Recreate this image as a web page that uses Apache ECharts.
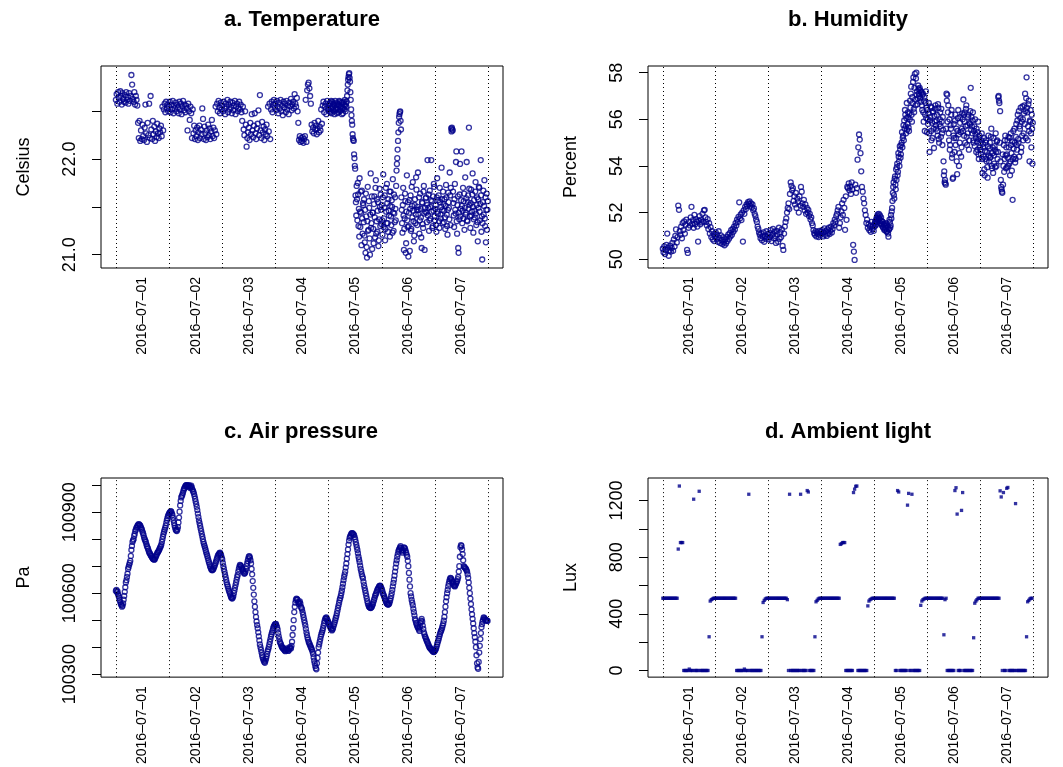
<!DOCTYPE html>
<html>
<head>
<meta charset="utf-8">
<script src="https://cdn.jsdelivr.net/npm/echarts@6/dist/echarts.min.js"></script>
<style>
html, body { margin: 0; padding: 0; background: #fff; }
#main { width: 1063px; height: 767px; }
</style>
</head>
<body>
<div id="main"></div>
<script>
// one array per day, values evenly spaced through the day
var temperature = [
    [22.62,22.68,22.58,22.70,22.64,22.60,22.71,22.66,22.57,22.69,22.63,22.60,
     22.67,22.59,22.70,22.62,22.65,22.58,22.69,22.61,22.66,22.88,22.78,22.63,
     22.60,22.70,22.57,22.66,22.62,22.56,22.38,22.22,22.40,22.19,22.30,22.21,
     22.36,22.24,22.20,22.33,22.57,22.27,22.18,22.38,22.25,22.58,22.22,22.66,
     22.31,22.21,22.40,22.26,22.34,22.19,22.29,22.23,22.37,22.27,22.22,22.32,
     22.28,22.35,22.24,22.55,22.30,22.52,22.58,22.49,22.60,22.53,22.57,22.50],
    [22.55,22.60,22.49,22.57,22.52,22.61,22.48,22.56,22.53,22.59,22.50,22.57,
     22.54,22.48,22.60,22.52,22.58,22.47,22.55,22.61,22.51,22.57,22.49,22.56,
     22.53,22.30,22.58,22.50,22.41,22.55,22.48,22.22,22.52,22.27,22.35,22.21,
     22.30,22.24,22.33,22.20,22.28,22.35,22.22,22.31,22.26,22.53,22.42,22.21,
     22.34,22.27,22.20,22.30,22.23,22.36,22.25,22.32,22.21,22.29,22.41,22.24,
     22.33,22.22,22.30,22.55,22.26,22.58,22.50,22.61,22.54,22.48,22.59,22.52],
    [22.56,22.50,22.60,22.53,22.47,22.58,22.55,22.62,22.49,22.57,22.52,22.60,
     22.54,22.48,22.59,22.51,22.56,22.61,22.47,22.55,22.58,22.50,22.53,22.60,
     22.52,22.57,22.49,22.40,22.55,22.31,22.25,22.50,22.36,22.13,22.22,22.28,
     22.33,22.20,22.38,22.26,22.47,22.30,22.23,22.35,22.48,22.27,22.21,22.32,
     22.37,22.51,22.25,22.67,22.30,22.22,22.39,22.28,22.34,22.20,22.31,22.26,
     22.36,22.24,22.55,22.29,22.58,22.21,22.52,22.60,22.49,22.57,22.62,22.54],
    [22.58,22.51,22.61,22.55,22.48,22.59,22.53,22.62,22.50,22.56,22.46,22.60,
     22.54,22.58,22.49,22.61,22.52,22.56,22.47,22.59,22.55,22.63,22.51,22.57,
     22.60,22.53,22.68,22.58,22.55,22.64,22.50,22.38,22.20,22.24,22.18,22.22,
     22.19,22.23,22.17,22.21,22.24,22.62,22.18,22.72,22.78,22.80,22.74,22.66,
     22.58,22.36,22.29,22.33,22.27,22.38,22.31,22.35,22.26,22.32,22.40,22.28,
     22.34,22.30,22.52,22.37,22.56,22.60,22.49,22.55,22.58,22.47,22.61,22.53],
    [22.56,22.52,22.50,22.58,22.59,22.49,22.53,22.61,22.48,22.55,22.60,22.51,
     22.54,22.58,22.57,22.50,22.47,22.56,22.61,22.53,22.52,22.59,22.55,22.48,
     22.58,22.52,22.49,22.57,22.56,22.61,22.60,22.50,22.51,22.55,22.54,22.59,
     22.47,22.53,22.59,22.48,22.53,22.60,22.57,22.52,22.62,22.56,22.50,22.58,
     22.55,22.60,22.66,22.72,22.78,22.83,22.86,22.89,22.90,22.85,22.81,22.70,
     22.62,22.52,22.46,22.40,22.36,22.26,22.22,22.20,22.19,22.05,22.01,21.93,
     21.90,21.62,21.55,21.41,21.72,21.58,21.36,21.75,21.63,21.30,21.48,21.19,
     21.80,21.45,21.29,21.66,21.44,21.10,21.67,21.38,21.22,21.54,21.52,21.34,
     21.58,21.20,21.13,21.47,21.02,21.64,21.40,21.08,20.97,21.35,21.71,21.25,
     21.26,21.56,21.49,21.17,21.00,21.42,21.85,21.28,21.33,21.61,21.06,21.44,
     21.44,21.27,21.12,21.53,21.61,21.39,21.18,21.70,21.78,21.22,21.35,21.58,
     21.24,21.46,21.55,21.09,21.15,21.37,21.69,21.50,21.30,21.63,21.47,21.32],
    [21.52,21.36,21.21,21.60,21.84,21.29,21.38,21.49,21.62,21.15,21.27,21.70,
     21.45,21.33,21.74,21.54,21.33,21.24,21.58,21.46,21.41,21.66,21.19,21.51,
     21.66,21.40,21.31,21.57,21.50,21.23,21.79,21.44,21.25,21.63,21.43,21.34,
     21.60,21.48,21.36,21.72,21.88,21.95,22.01,22.10,22.19,22.28,22.38,22.44,
     22.47,22.49,22.50,22.40,22.31,21.60,21.47,21.33,21.23,21.52,21.70,21.41,
     21.05,21.27,21.38,21.64,21.56,21.02,21.12,21.45,21.83,21.36,21.29,21.55,
     20.98,21.30,21.44,21.57,21.04,21.48,21.62,21.25,21.27,21.71,21.51,21.39,
     21.76,21.46,21.35,21.14,21.20,21.52,21.58,21.33,21.42,21.81,21.68,21.47,
     21.31,21.50,21.86,21.42,21.47,21.60,21.22,21.36,21.64,21.48,21.39,21.18,
     21.07,21.55,21.54,21.32,21.28,21.66,21.72,21.43,21.05,21.49,21.45,21.59,
     21.60,21.44,21.34,21.52,21.99,21.41,21.49,21.63,21.25,21.36,21.67,21.50,
     21.38,21.57,21.99,21.45,21.56,21.28,21.30,21.61,21.46,21.74,21.71,21.40],
    [21.36,21.48,21.52,21.31,21.24,21.60,21.80,21.45,21.43,21.57,21.62,21.35,
     21.28,21.70,21.55,21.42,21.38,21.50,21.91,21.58,21.47,21.33,21.66,21.53,
     21.34,21.46,21.58,21.39,21.27,21.51,21.73,21.60,21.42,21.30,21.21,21.47,
     21.65,21.55,21.49,21.37,21.86,21.62,21.31,21.70,22.32,22.29,22.33,22.31,
     22.30,21.66,21.54,21.41,21.29,21.58,21.74,21.47,21.43,21.97,22.08,21.35,
     21.22,21.52,21.61,21.07,21.02,21.44,21.37,21.63,21.95,21.40,21.48,21.57,
     22.08,21.51,21.33,21.46,21.70,21.38,21.56,21.64,21.26,21.49,21.81,21.42,
     21.44,21.59,21.97,21.36,21.35,21.55,21.62,21.48,22.33,21.69,21.52,21.40,
     21.28,21.54,21.68,21.41,21.45,21.63,21.85,21.50,21.23,21.37,21.57,21.46,
     21.39,21.66,21.76,21.43,21.31,21.52,21.60,21.34,21.14,21.58,21.49,21.71,
     21.70,21.45,21.36,21.53,21.99,21.62,21.24,21.40,20.95,21.33,21.55,21.67,
     21.42,21.51,21.78,21.38,21.30,21.60,21.13,21.47,21.64,21.26,21.47,21.56]
];

var humidity = [
    [50.45,50.30,50.55,50.22,50.40,50.62,51.10,50.50,50.15,50.38,50.58,50.33,
     50.48,50.70,50.36,50.85,50.55,51.00,51.28,50.72,50.95,52.30,52.12,51.20,
     51.05,51.40,50.90,51.55,51.25,51.62,51.10,51.48,51.70,50.40,50.27,51.35,
     51.60,51.45,51.80,52.25,51.52,51.68,51.35,51.90,51.50,51.72,51.62,51.40,
     50.76,51.65,51.85,51.50,51.70,51.58,51.95,51.62,52.10,52.12,51.80,51.60,
     51.45,51.72,51.30,51.55,51.10,51.38,50.95,51.20,50.85,51.08,50.78,50.98],
    [51.15,50.88,51.05,50.75,51.20,50.92,50.70,51.02,50.82,50.65,50.95,50.72,
     50.60,50.85,50.68,50.95,50.78,51.05,50.88,51.12,50.98,51.25,51.05,51.30,
     51.18,51.40,51.28,51.55,51.45,51.70,51.60,51.82,52.44,51.75,51.92,51.68,
     52.00,50.76,52.10,51.95,52.25,52.15,52.35,52.28,52.45,52.38,52.48,52.30,
     52.40,52.22,52.35,52.10,52.18,51.95,51.85,51.70,51.60,51.40,51.30,51.15,
     51.05,50.90,51.10,50.82,50.98,51.15,50.75,51.00,50.88,51.20,50.95,51.08],
    [50.85,51.12,50.95,51.25,50.78,51.05,51.30,50.90,51.18,51.00,50.70,51.22,
     51.08,50.75,51.35,50.88,51.15,50.95,51.28,50.57,50.40,51.10,51.40,51.60,
     51.75,52.00,52.20,52.40,52.15,52.80,53.30,53.15,52.95,53.05,52.50,52.70,
     52.35,52.85,52.20,52.60,52.45,52.00,52.70,52.30,53.10,52.90,52.40,52.25,
     52.55,52.10,52.35,51.95,52.20,52.00,52.12,51.85,51.95,51.70,51.80,51.55,
     51.45,51.25,51.12,51.05,51.20,50.98,51.15,51.08,50.95,51.22,51.02,51.18],
    [51.10,51.25,50.98,51.15,51.32,51.05,51.20,51.00,51.28,51.12,51.35,51.08,
     51.22,51.40,51.15,51.30,51.55,51.45,51.70,51.60,51.85,51.95,52.10,52.25,
     51.35,51.55,51.80,52.05,52.40,51.90,52.55,52.20,51.26,52.70,51.69,53.10,
     53.05,53.25,52.95,53.12,52.80,53.30,53.00,50.62,50.33,49.97,53.20,52.85,
     53.05,54.27,54.80,55.35,55.13,54.55,53.77,53.10,52.90,52.60,52.40,52.10,
     51.90,51.55,51.70,51.35,51.50,51.25,51.42,51.18,51.60,51.30,51.45,51.22],
    [51.40,51.55,51.62,51.45,51.50,51.70,51.78,51.60,51.85,51.92,51.68,51.80,
     51.95,51.72,51.75,51.88,51.55,51.66,51.80,51.50,51.45,51.62,51.60,51.38,
     51.35,51.48,51.50,51.25,51.28,51.52,51.42,51.33,51.55,51.18,51.20,51.45,
     51.38,51.10,50.97,51.25,51.30,51.70,51.60,51.35,51.45,51.90,51.75,52.05,
     52.20,52.50,52.85,53.10,53.30,52.75,52.60,53.45,53.55,53.20,53.00,53.85,
     53.40,53.95,54.10,53.60,53.75,54.55,54.40,54.20,54.00,54.85,54.70,54.35,
     54.50,54.90,55.00,55.45,54.80,55.20,55.30,55.75,55.10,55.95,55.60,56.40,
     56.20,55.70,55.40,56.05,56.70,55.55,55.80,56.30,56.10,55.65,55.50,56.25,
     56.00,56.80,56.50,57.10,57.40,56.20,55.90,56.95,56.70,57.60,57.80,56.45,
     56.30,57.35,57.95,56.85,56.60,57.75,58.00,57.05,57.20,56.65,56.90,57.45,
     57.30,57.10,57.00,57.35,57.25,56.90,56.75,57.20,57.15,56.60,56.40,57.05,
     57.10,56.30,55.90,56.80,56.95,55.50,56.20,56.70,57.20,56.05,56.50,55.45],
    [56.40,56.00,55.80,56.25,56.70,55.40,54.60,55.95,56.10,56.55,55.50,55.10,
     56.50,55.85,55.20,56.35,56.30,55.60,54.77,56.15,55.90,56.45,56.60,55.75,
     55.60,55.95,56.20,55.50,55.30,56.65,56.50,55.15,55.00,55.80,56.00,56.30,
     55.70,55.25,56.45,55.90,55.40,54.90,56.10,55.55,54.20,53.60,53.77,53.30,
     53.40,53.25,53.20,55.60,57.10,56.80,57.05,55.90,56.30,56.60,55.40,55.10,
     56.00,54.70,54.90,55.75,55.60,56.20,56.40,54.35,54.50,53.45,53.50,55.30,
     55.80,55.20,54.60,55.95,56.20,54.90,55.20,55.60,54.20,53.65,55.50,56.05,
     56.40,55.35,54.00,54.55,55.00,55.85,56.10,55.45,54.40,54.80,55.60,56.25,
     56.00,55.50,56.85,56.20,55.30,55.90,56.30,55.00,55.70,56.45,56.60,55.25,
     54.90,55.75,55.40,56.10,56.20,54.70,55.10,55.85,55.80,56.35,57.35,55.55,
     56.10,55.70,55.40,55.95,56.30,55.10,55.00,55.50,55.70,54.85,56.00,55.35,
     55.20,54.60,55.60,55.05,54.70,55.45,55.90,54.50,54.30,55.15,55.30,54.80],
    [55.00,54.70,54.50,55.10,55.40,54.30,53.70,54.95,54.80,54.40,55.20,53.85,
     53.60,54.65,54.30,55.00,55.10,54.20,54.60,53.95,53.50,54.85,55.30,54.45,
     54.20,54.75,55.00,54.35,54.40,55.25,55.60,54.00,53.90,54.55,54.80,53.70,
     55.20,54.45,54.10,54.85,54.70,53.95,55.40,54.60,54.00,55.05,55.10,54.30,
     54.60,56.95,57.00,56.80,56.70,55.00,56.35,54.20,53.40,53.10,53.00,52.90,
     52.85,54.50,53.20,54.00,54.90,53.75,54.30,55.10,55.30,54.45,53.90,54.80,
     54.50,53.95,55.10,54.35,54.00,55.25,54.80,54.10,55.20,53.60,54.20,55.40,
     54.90,54.55,53.80,55.05,52.55,54.30,55.50,54.75,54.40,55.60,55.00,54.15,
     54.30,55.25,55.80,54.90,54.70,55.95,56.20,55.15,55.00,56.35,54.40,55.70,
     55.60,56.05,56.50,54.60,54.80,55.90,55.30,56.55,56.00,55.10,55.40,56.25,
     56.60,55.80,57.10,56.35,55.20,56.90,57.80,56.50,56.30,55.10,55.70,56.65,
     56.80,55.50,54.20,55.95,55.90,56.40,55.40,54.80,56.20,55.60,54.10,55.85]
];

var pressure = [
    [100608,100612,100603,100607,100596,100590,100583,100574,100567,100560,100556,100550,100553,100562,100576,100590,
     100605,100622,100640,100648,100660,100672,100690,100697,100705,100712,100720,100738,100760,100775,100790,100796,
     100800,100812,100820,100830,100835,100842,100845,100850,100852,100856,100855,100852,100850,100845,100840,100835,
     100828,100822,100815,100806,100800,100795,100790,100782,100775,100770,100765,100758,100752,100748,100745,100740,
     100738,100733,100730,100727,100726,100724,100725,100730,100735,100740,100745,100750,100752,100756,100760,100765,
     100770,100774,100780,100790,100800,100810,100820,100828,100835,100842,100850,100860,100870,100878,100885,100890],
    [100895,100898,100900,100904,100902,100896,100890,100880,100870,100860,100850,100842,100835,100832,100830,100836,
     100845,100862,100880,100902,100925,100942,100955,100960,100965,100972,100980,100986,100990,100995,100998,101000,
     101000,100997,100995,100998,101000,100994,100990,100995,100998,100992,100985,100980,100975,100968,100960,100950,
     100940,100930,100920,100908,100895,100882,100870,100860,100850,100840,100830,100820,100810,100800,100790,100782,
     100775,100768,100760,100752,100745,100738,100730,100722,100715,100708,100700,100695,100690,100686,100685,100687,
     100690,100695,100700,100706,100712,100718,100725,100732,100738,100742,100745,100748,100750,100746,100740,100732],
    [100725,100712,100700,100690,100680,100670,100660,100650,100640,100632,100625,100617,100610,100604,100598,100591,
     100585,100582,100580,100584,100590,100600,100610,100620,100630,100640,100650,100660,100668,100680,100690,100698,
     100705,100703,100700,100695,100690,100685,100680,100676,100672,100675,100680,100690,100700,100710,100720,100728,
     100735,100737,100732,100722,100710,100690,100670,100645,100620,100595,100570,100550,100530,100512,100495,100482,
     100470,100455,100440,100425,100410,100400,100390,100380,100370,100362,100355,100350,100345,100342,100350,100357,
     100365,100375,100385,100392,100400,100410,100420,100430,100440,100448,100455,100462,100470,100476,100480,100484],
    [100485,100486,100480,100473,100465,100452,100440,100430,100420,100415,100410,100404,100400,100397,100395,100392,
     100390,100387,100385,100390,100395,100392,100390,100386,100388,100394,100400,100397,100395,100405,100420,100445,
     100470,100500,100530,100550,100565,100575,100580,100578,100575,100568,100560,100565,100570,100562,100550,100545,
     100540,100530,100520,100510,100500,100490,100480,100468,100455,100445,100435,100428,100420,100415,100410,100405,
     100400,100395,100390,100383,100375,100362,100350,100340,100330,100322,100318,100340,100360,100380,100400,100410,
     100420,100430,100440,100448,100455,100462,100470,100480,100490,100498,100505,100508,100510,100505,100500,100495],
    [100490,100485,100480,100475,100470,100466,100462,100465,100470,100478,100485,100492,100500,100508,100515,100525,
     100535,100545,100555,100565,100575,100582,100590,100600,100610,100622,100635,100648,100660,100670,100680,100695,
     100710,100728,100745,100762,100780,100795,100805,100810,100815,100820,100822,100822,100820,100818,100815,100808,
     100800,100790,100780,100770,100760,100748,100735,100725,100715,100702,100690,100680,100670,100662,100655,100642,
     100630,100620,100610,100600,100590,100580,100570,100562,100555,100550,100548,100546,100545,100547,100550,100555,
     100560,100568,100575,100582,100590,100595,100600,100606,100612,100616,100620,100624,100627,100628,100625,100620],
    [100615,100608,100600,100595,100590,100584,100578,100572,100566,100562,100560,100558,100558,100560,100565,100572,
     100580,100590,100600,100612,100625,100638,100650,100665,100680,100695,100710,100722,100735,100745,100755,100760,
     100765,100770,100774,100768,100760,100755,100750,100760,100770,100768,100765,100758,100750,100742,100735,100720,
     100700,100675,100650,100625,100600,100588,100575,100565,100555,100542,100530,100518,100505,100498,100490,100484,
     100478,100474,100470,100465,100460,100475,100490,100498,100505,100495,100480,100468,100455,100448,100440,100436,
     100430,100425,100420,100415,100410,100405,100400,100397,100395,100392,100390,100388,100385,100383,100382,100384],
    [100388,100390,100395,100402,100410,100418,100425,100432,100440,100448,100455,100460,100465,100472,100480,100488,
     100498,100512,100530,100550,100570,100585,100600,100612,100625,100635,100645,100652,100657,100655,100650,100645,
     100640,100635,100630,100627,100625,100630,100635,100640,100645,100652,100660,100680,100700,100735,100770,100778,
     100775,100762,100745,100722,100700,100697,100695,100692,100690,100685,100680,100670,100657,100640,100620,100600,
     100580,100560,100540,100522,100505,100488,100470,100452,100437,100420,100400,100370,100340,100325,100320,100345,
     100380,100405,100430,100452,100474,100485,100495,100502,100510,100508,100505,100502,100500,100499,100498,100497]
];

var light = [
    [510,510,510,510,510,510,510,510, 510,510,510,510,510,510,857,1302,
     903,903,903,0,0,0,0,0, 10,0,0,0,1209,0,0,0,
     0,1265,0,0,0,0,0,0, 0,0,238,490,500,505,510,510],
    [510,510,510,510,510,510,510,510, 510,510,510,510,510,510,510,510,
     510,510,510,0,0,0,0,0, 0,0,10,0,0,0,1244,0,
     0,0,0,0,0,0,0,0, 0,0,238,480,495,505,510,510],
    [510,510,510,510,510,510,510,510, 510,510,510,510,510,510,510,510,
     510,500,0,1244,0,0,0,0, 0,0,0,0,0,1244,0,0,
     0,0,0,1270,1260,0,0,0, 0,0,238,485,495,505,510,510],
    [510,510,510,510,510,510,510,510, 510,510,510,510,510,510,510,510,
     510,890,895,903,903,903,0,0, 0,0,0,0,0,1256,1280,1300,
     1302,0,0,0,0,0,0,0, 0,0,456,490,500,505,510,510],
    [510,510,510,510,510,510,510,510, 510,510,510,510,510,510,510,510,
     510,510,510,0,0,1270,1260,0, 0,0,0,0,0,0,1167,1250,
     0,0,1244,0,0,0,0,0, 0,0,460,490,500,505,510,510],
    [510,510,510,510,510,510,510,510, 510,510,510,510,510,510,510,252,
     500,510,0,0,0,0,0,0, 0,1270,1290,1104,0,0,0,1130,
     1256,0,0,0,0,0,0,0, 0,0,231,475,490,500,510,510],
    [510,510,510,510,510,510,510,510, 510,510,510,510,510,510,510,510,
     510,510,1268,1225,0,1256,0,0, 1286,1292,0,0,0,0,0,0,
     1178,0,0,0,0,0,0,0, 0,0,238,485,495,505,510,510]
];

var dayLabels = ['2016\u201307\u201301', '2016\u201307\u201302', '2016\u201307\u201303', '2016\u201307\u201304',
                 '2016\u201307\u201305', '2016\u201307\u201306', '2016\u201307\u201307'];

var tempTicks = [21, 21.5, 22, 22.5];
var tempTickLabels = [21, 22];
var humTicks = [50, 52, 54, 56, 58];
var humTickLabels = [50, 52, 54, 56, 58];
var presTicks = [100300, 100400, 100500, 100600, 100700, 100800, 100900, 101000];
var presTickLabels = [100300, 100600, 100900];
var luxTicks = [0, 200, 400, 600, 800, 1000, 1200];
var luxTickLabels = [0, 400, 800, 1200];

// hours since the first day line
function toPoints(days) {
    var pts = [];
    days.forEach(function (vals, d) {
        var step = 24 / vals.length;
        vals.forEach(function (v, i) {
            pts.push([d * 24 + i * step, v]);
        });
    });
    return pts;
}

var dayLines = [];
for (var i = 0; i <= dayLabels.length; i++) dayLines.push(i * 24);
var labelHours = dayLabels.map(function (d, i) { return 12 + i * 24; });

var FONT = '"Liberation Sans", Arial, Helvetica, sans-serif';
var BLUE = '#00008B';

var panels = [
    { title: 'a. Temperature', unit: 'Celsius', days: temperature, cx: 302, ty: 9,
      grid: { left: 101, top: 66, width: 402, height: 202 }, min: 20.861, max: 22.974,
      ticks: tempTicks, labels: tempTickLabels, digits: 1 },
    { title: 'b. Humidity', unit: 'Percent', days: humidity, cx: 848, ty: 9,
      grid: { left: 648, top: 66, width: 400, height: 202 }, min: 49.625, max: 58.287,
      ticks: humTicks, labels: humTickLabels, digits: 0 },
    { title: 'c. Air pressure', unit: 'Pa', days: pressure, cx: 301, ty: 421,
      grid: { left: 101, top: 478, width: 402, height: 201 }, min: 100288.9, max: 101026.8,
      ticks: presTicks, labels: presTickLabels, digits: 0 },
    { title: 'd. Ambient light', unit: 'Lux', days: light, cx: 848, ty: 421,
      grid: { left: 648, top: 478, width: 400, height: 201 }, min: -46.9, max: 1358.7,
      ticks: luxTicks, labels: luxTickLabels, digits: 0, square: true }
];

var option = {
    animation: false,
    textStyle: { fontFamily: FONT },
    title: [], grid: [], xAxis: [], yAxis: [], series: []
};

panels.forEach(function (p, k) {
    option.title.push({
        text: p.title, left: p.cx, top: p.ty, textAlign: 'center', padding: 0,
        textStyle: { fontSize: 22, fontWeight: 'bold', color: '#000', fontFamily: FONT }
    });
    option.grid.push({
        left: p.grid.left, top: p.grid.top, width: p.grid.width, height: p.grid.height,
        show: true, borderColor: '#000', borderWidth: 1, backgroundColor: 'transparent'
    });
    option.xAxis.push({
        type: 'value', gridIndex: k, min: -6.72, max: 174.72,
        axisLine: { show: false, onZero: false },
        axisTick: { show: false },
        splitLine: { show: false },
        axisLabel: {
            customValues: labelHours, rotate: 90, margin: 9,
            fontSize: 14, color: '#000', fontFamily: FONT,
            formatter: function (v) { return dayLabels[Math.round((v - 12) / 24)]; }
        }
    });
    option.yAxis.push({
        type: 'value', gridIndex: k, min: p.min, max: p.max,
        name: p.unit, nameLocation: 'middle', nameGap: 68,
        nameTextStyle: { fontSize: 18, color: '#000', fontFamily: FONT },
        axisLine: { show: false, onZero: false },
        splitLine: { show: false },
        axisTick: { show: true, customValues: p.ticks, length: 9, lineStyle: { color: '#000', width: 1 } },
        axisLabel: {
            customValues: p.labels, rotate: 90, margin: 22,
            fontSize: 18, color: '#000', fontFamily: FONT,
            formatter: function (v) { return v.toFixed(p.digits); }
        }
    });
    option.series.push({
        type: 'scatter', xAxisIndex: k, yAxisIndex: k, silent: true,
        data: toPoints(p.days),
        symbol: p.square ? 'rect' : 'circle',
        symbolSize: p.square ? 3.3 : 5,
        itemStyle: p.square
            ? { color: BLUE }
            : { color: 'rgba(0,0,0,0)', borderColor: BLUE, borderWidth: 1.3 },
        markLine: {
            silent: true, symbol: ['none', 'none'],
            label: { show: false },
            lineStyle: { color: '#000', width: 1, type: [1, 3] },
            emphasis: { disabled: true },
            data: dayLines.map(function (h) { return { xAxis: h }; })
        }
    });
});

var chart = echarts.init(document.getElementById('main'));
chart.setOption(option);
window.addEventListener('resize', function () { chart.resize(); });
</script>
</body>
</html>
